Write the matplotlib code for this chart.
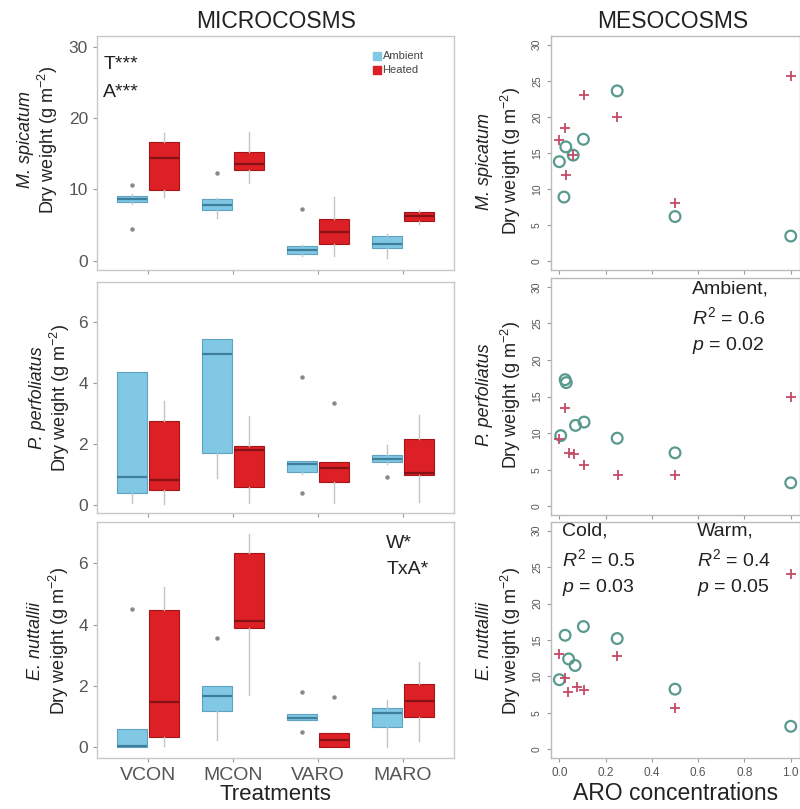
import matplotlib.pyplot as plt

plt.rcParams['font.family'] = ['Liberation Sans', 'DejaVu Sans']
plt.rcParams['mathtext.fontset'] = 'custom'
plt.rcParams['mathtext.rm'] = 'Liberation Sans'
plt.rcParams['mathtext.it'] = 'Liberation Sans:italic'

treatments = ['VCON', 'MCON', 'VARO', 'MARO']

# box stats per treatment: [whisker low, q1, median, q3, whisker high]
spic_ambient = [[8.0, 8.2, 8.7, 9.1, 9.3], [6.0, 7.1, 7.8, 8.6, 8.8],
                [0.7, 1.0, 1.5, 2.0, 2.2], [0.4, 1.8, 2.4, 3.5, 3.7]]
spic_ambient_out = [[10.6, 4.4], [12.3], [7.2], []]
spic_heated = [[9.0, 9.9, 14.4, 16.6, 17.9], [10.9, 12.7, 13.6, 15.2, 18.0],
               [0.6, 2.3, 4.0, 5.8, 9.0], [5.2, 5.5, 6.2, 6.9, 7.1]]
spic_heated_out = [[], [], [], []]

perf_ambient = [[0.06, 0.38, 0.9, 4.35, 4.35], [0.88, 1.71, 4.95, 5.43, 5.43],
                [1.0, 1.07, 1.33, 1.42, 1.45], [1.35, 1.39, 1.5, 1.64, 1.95]]
perf_ambient_out = [[], [], [4.2, 0.38], [0.9]]
perf_heated = [[0.03, 0.47, 0.8, 2.76, 3.39], [0.06, 0.58, 1.8, 1.94, 2.9],
               [0.05, 0.76, 1.2, 1.39, 1.39], [0.1, 0.98, 1.05, 2.15, 2.95]]
perf_heated_out = [[], [], [3.33], []]

nutt_ambient = [[0.0, 0.0, 0.05, 0.58, 0.6], [0.23, 1.18, 1.66, 2.0, 2.0],
                [0.88, 0.88, 0.97, 1.07, 1.07], [0.0, 0.66, 1.12, 1.29, 1.53]]
nutt_ambient_out = [[4.52], [3.58], [1.8, 0.5], []]
nutt_heated = [[0.03, 0.32, 1.48, 4.47, 5.23], [1.7, 3.9, 4.12, 6.34, 6.97],
               [0.0, 0.0, 0.25, 0.45, 0.45], [0.2, 0.99, 1.5, 2.07, 2.78]]
nutt_heated_out = [[], [], [1.64], []]

# mesocosm scatter: ARO concentration vs dry weight
spic_cold_x = [0.0, 0.02, 0.028, 0.06, 0.104, 0.25, 0.5, 1.0]
spic_cold_y = [13.8, 8.9, 15.85, 14.7, 16.9, 23.6, 6.2, 3.5]
spic_warm_x = [0.0, 0.025, 0.03, 0.06, 0.107, 0.25, 0.5, 1.0]
spic_warm_y = [16.75, 18.5, 12.0, 14.7, 23.0, 20.0, 8.1, 25.6]

perf_cold_x = [0.006, 0.025, 0.03, 0.07, 0.107, 0.25, 0.5, 1.0]
perf_cold_y = [9.65, 17.3, 16.9, 11.05, 11.5, 9.3, 7.3, 3.2]
perf_warm_x = [0.0, 0.025, 0.04, 0.065, 0.108, 0.255, 0.5, 1.0]
perf_warm_y = [9.2, 13.4, 7.3, 7.2, 5.6, 4.3, 4.3, 15.0]

nutt_cold_x = [0.0, 0.025, 0.04, 0.068, 0.104, 0.25, 0.5, 1.0]
nutt_cold_y = [9.55, 15.65, 12.4, 11.5, 16.85, 15.2, 8.25, 3.15]
nutt_warm_x = [0.0, 0.025, 0.036, 0.075, 0.108, 0.25, 0.5, 1.0]
nutt_warm_y = [13.1, 9.8, 7.9, 8.6, 8.1, 12.75, 5.6, 24.0]

W, H = 800, 809
fig = plt.figure(figsize=(W / 100, H / 100), dpi=100)


def px_axes(x0, y0, x1, y1):
    return fig.add_axes([x0 / W, 1 - y1 / H, (x1 - x0) / W, (y1 - y0) / H])


def style(ax, border='#c8c8c8'):
    for s in ax.spines.values():
        s.set_color(border)
        s.set_linewidth(1.0)
    ax.tick_params(colors='#999999', labelcolor='#555555', length=3, width=0.8)


def make_stats(rows, outs):
    return [dict(whislo=r[0], q1=r[1], med=r[2], q3=r[3], whishi=r[4], fliers=o)
            for r, o in zip(rows, outs)]


def boxes(ax, rows, outs, off, face, edge, medc):
    pos = [i + 1 + off for i in range(len(rows))]
    ax.bxp(make_stats(rows, outs), positions=pos, widths=0.36, patch_artist=True,
           showcaps=False,
           boxprops=dict(facecolor=face, edgecolor=edge, linewidth=0.8),
           medianprops=dict(color=medc, linewidth=1.6),
           whiskerprops=dict(color='#c4c4c4', linewidth=1.0),
           flierprops=dict(marker='o', markersize=2.2, markerfacecolor='#888888',
                           markeredgecolor='#888888'))


left_rows = [(36, 270), (282, 513), (522, 758)]
micro = [(spic_ambient, spic_ambient_out, spic_heated, spic_heated_out, (-1.3, 31.5), [0, 10, 20, 30]),
         (perf_ambient, perf_ambient_out, perf_heated, perf_heated_out, (-0.27, 7.3), [0, 2, 4, 6]),
         (nutt_ambient, nutt_ambient_out, nutt_heated, nutt_heated_out, (-0.35, 7.35), [0, 2, 4, 6])]

left_axes = []
for (y0, y1), (amb, amb_o, hea, hea_o, ylim, yt) in zip(left_rows, micro):
    ax = px_axes(97, y0, 454, y1)
    boxes(ax, amb, amb_o, -0.19, '#80c8e4', '#5fa3c2', '#3f7f9c')
    boxes(ax, hea, hea_o, 0.19, '#dc2025', '#a51518', '#851214')
    ax.set_xlim(0.4, 4.6)
    ax.set_ylim(*ylim)
    ax.set_yticks(yt)
    ax.set_xticks(range(1, 5))
    ax.set_xticklabels([])
    style(ax)
    ax.tick_params(axis='y', labelsize=12.5)
    left_axes.append(ax)

left_axes[2].set_xticklabels(treatments, fontsize=14)
left_axes[2].set_xlabel('Treatments', fontsize=16, color='#222222', labelpad=0)

# legend
lax = left_axes[0]
lax.scatter([0.785], [0.915], marker='s', s=30, color='#80c8e4', transform=lax.transAxes)
lax.scatter([0.785], [0.855], marker='s', s=30, color='#dc2025', transform=lax.transAxes)
lax.text(0.80, 0.915, 'Ambient', fontsize=8, color='#444444', va='center', transform=lax.transAxes)
lax.text(0.80, 0.855, 'Heated', fontsize=8, color='#444444', va='center', transform=lax.transAxes)

lax.text(0.018, 0.88, 'T***', fontsize=14, color='#222222', va='center', transform=lax.transAxes)
lax.text(0.018, 0.76, 'A***', fontsize=14, color='#222222', va='center', transform=lax.transAxes)
left_axes[2].text(0.81, 0.91, 'W*', fontsize=14, color='#222222', va='center',
                  transform=left_axes[2].transAxes)
left_axes[2].text(0.81, 0.80, 'TxA*', fontsize=14, color='#222222', va='center',
                  transform=left_axes[2].transAxes)

# right column
meso = [(spic_cold_x, spic_cold_y, spic_warm_x, spic_warm_y),
        (perf_cold_x, perf_cold_y, perf_warm_x, perf_warm_y),
        (nutt_cold_x, nutt_cold_y, nutt_warm_x, nutt_warm_y)]
right_rows = [(36, 270), (278, 515), (522, 758)]
right_axes = []
for (y0, y1), (cx, cy, wx, wy) in zip(right_rows, meso):
    ax = px_axes(551, y0, 800, y1)
    ax.scatter(cx, cy, s=60, facecolors='none', edgecolors='#5a9a8e', linewidths=1.6)
    ax.scatter(wx, wy, s=60, marker='+', color='#c44b66', linewidths=1.3)
    ax.set_xlim(-0.036, 1.04)
    ax.set_ylim(-1.2, 31.2)
    ax.set_yticks(range(0, 31, 5))
    ax.set_xticks([0, 0.2, 0.4, 0.6, 0.8, 1.0])
    ax.set_xticklabels([])
    style(ax, border='#bbbbbb')
    ax.tick_params(axis='y', labelsize=7.5, labelrotation=90)
    for t in ax.get_yticklabels():
        t.set_va('center')
    right_axes.append(ax)

right_axes[2].set_xticklabels(['0.0', '0.2', '0.4', '0.6', '0.8', '1.0'], fontsize=8.5)
right_axes[2].set_xlabel('ARO concentrations', fontsize=16.5, color='#222222', labelpad=2)

right_axes[1].text(692, 295, 'Ambient,\n$R^2$ = 0.6\n$p$ = 0.02', fontsize=14, color='#222222',
                   va='top', linespacing=1.45, transform=None)
for x, word, r2, p in [(562, 'Cold,', '0.5', '0.03'), (697, 'Warm,', '0.4', '0.05')]:
    right_axes[2].text(x / W, 1 - 523 / H, word + '\n$R^2$ = ' + r2 + '\n$p$ = ' + p,
                       fontsize=14, color='#222222', va='top', linespacing=1.45,
                       transform=fig.transFigure)

# fix Ambient text to figure coords
right_axes[1].texts[0].set_transform(fig.transFigure)
right_axes[1].texts[0].set_position((692 / W, 1 - 281 / H))

# titles
fig.text(276 / W, 1 - 21 / H, 'MICROCOSMS', fontsize=16.5, color='#222222', ha='center', va='center')
fig.text(673 / W, 1 - 22 / H, 'MESOCOSMS', fontsize=16.5, color='#222222', ha='center', va='center')

# y labels
species = ['M. spicatum', 'P. perfoliatus', 'E. nuttallii']
ylab = 'Dry weight (g m$^{-2}$)'
left_pos = [(25, 48, 140), (38, 60, 398), (36, 59, 641)]
right_pos = [(485, 511, 161), (485, 511, 395), (485, 511, 641)]
for sp, (xs, xd, yc) in zip(species, left_pos):
    fig.text(xs / W, 1 - yc / H, sp, fontsize=13, style='italic', color='#222222',
             rotation=90, ha='center', va='center')
    fig.text(xd / W, 1 - yc / H, ylab, fontsize=13, color='#222222',
             rotation=90, ha='center', va='center')
for sp, (xs, xd, yc) in zip(species, right_pos):
    fig.text(xs / W, 1 - yc / H, sp, fontsize=13, style='italic', color='#222222',
             rotation=90, ha='center', va='center')
    fig.text(xd / W, 1 - yc / H, ylab, fontsize=13, color='#222222',
             rotation=90, ha='center', va='center')

fig.savefig('out.png', dpi=100)
